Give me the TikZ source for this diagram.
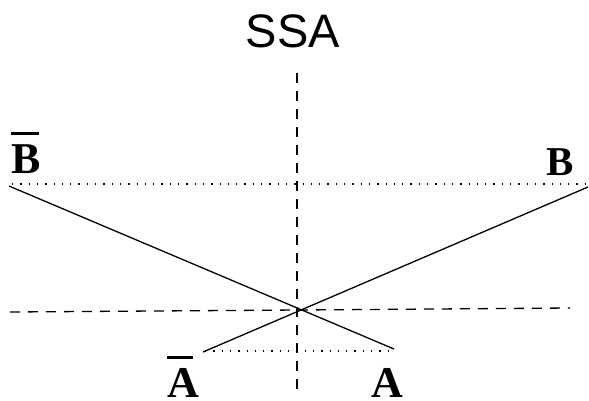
\documentclass[tikz,border=0pt]{standalone}
\usepackage{fontspec}
\setmainfont{Liberation Serif}
\newfontfamily\ssafont{Liberation Sans}
\newcommand{\barlbl}[2]{\rlap{\rule[38pt]{#1}{2.8pt}}#2}
\begin{document}
\begin{tikzpicture}[x=1pt,y=-1pt,
  solidln/.style={line width=1.3pt},
  dashln/.style={line width=1.3pt,dash pattern=on 10pt off 8pt},
  dotln/.style={line width=1.3pt,dash pattern=on 1.3pt off 7pt},
  lbl/.style={inner sep=0pt,anchor=base west,font=\bfseries\fontsize{44}{44}\selectfont}]
\useasboundingbox (0,0) rectangle (589,400);
% coordinates
\coordinate (vtop) at (297,73);
\coordinate (vbot) at (297,392);
\coordinate (hl) at (10,312);
\coordinate (mid) at (298,310);
\coordinate (hr) at (570,308);
\coordinate (dtl) at (12,184);
\coordinate (dtr) at (586,184);
\coordinate (dbl) at (205,351);
\coordinate (dbr) at (393,351);
\coordinate (p1) at (9,186);
\coordinate (p2) at (394,349);
\coordinate (q1) at (203,352);
\coordinate (q2) at (588,187);
% title
\node (ssa) [inner sep=0pt,anchor=base,font=\ssafont\fontsize{47}{47}\selectfont] at (293,47) {SSA};
% labels
\node (bbar) [lbl] at (11,173) {\barlbl{28pt}{B}};
\node (b) [lbl,font=\bfseries\fontsize{41}{41}\selectfont] at (546,175) {B};
\node (abar) [lbl] at (167,397) {\barlbl{26pt}{A}};
\node (a) [lbl] at (371,397) {A};
% lines
\draw[dashln] (vtop) -- (vbot);
\draw[dashln] (hl) -- (mid) -- (hr);
\draw[dotln] (dtl) -- (dtr);
\draw[dotln] (dbl) -- (dbr);
\draw[solidln] (p1) -- (p2);
\draw[solidln] (q1) -- (q2);
\end{tikzpicture}
\end{document}
